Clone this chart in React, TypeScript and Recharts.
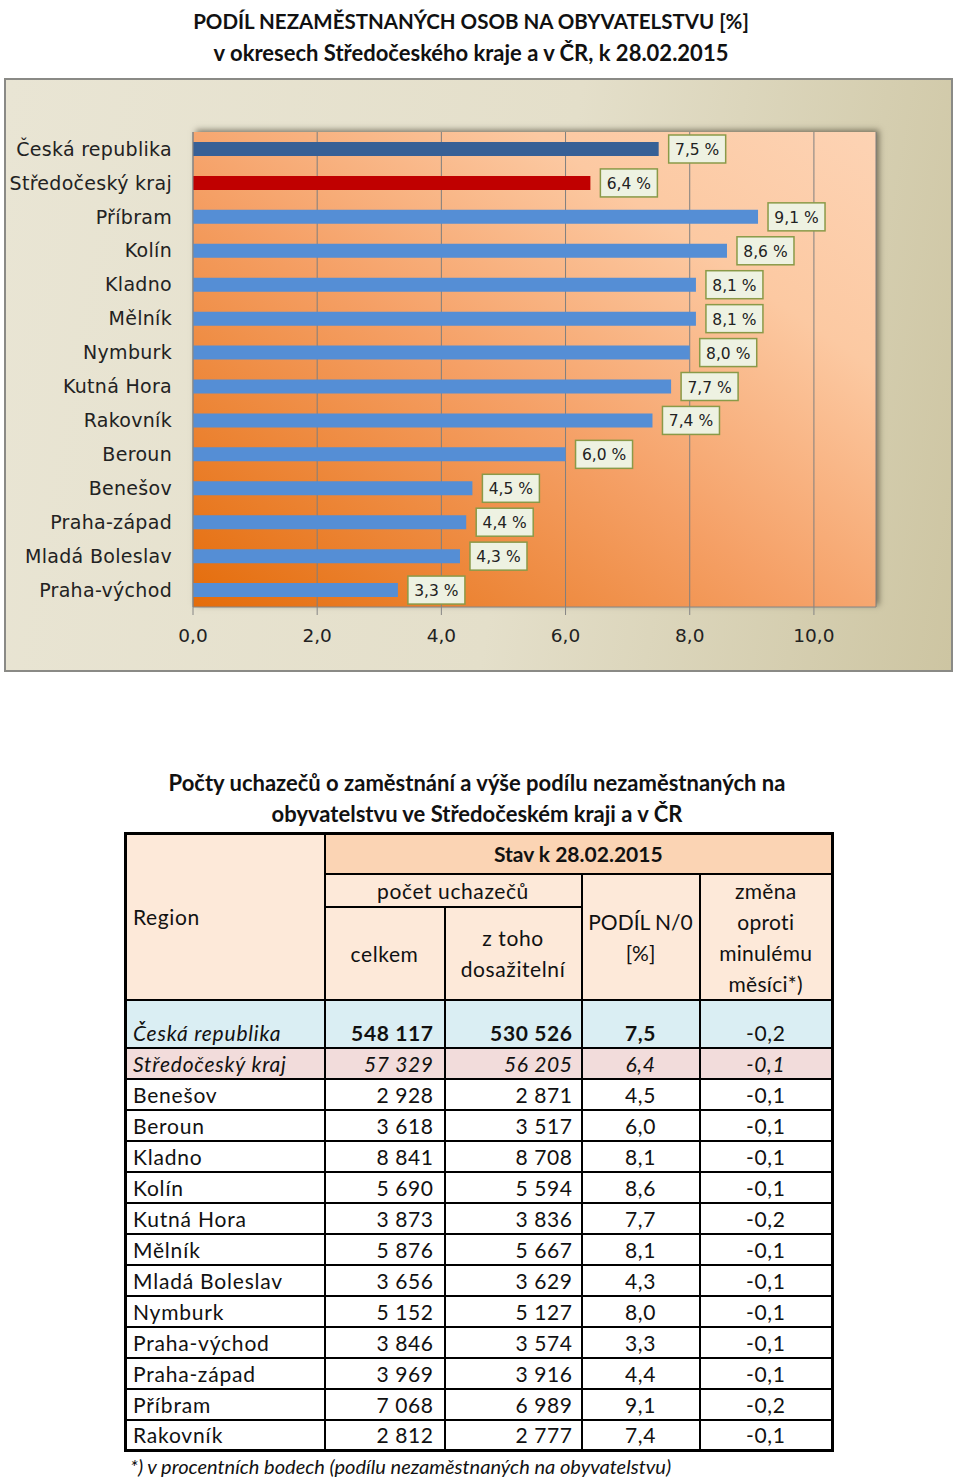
import React from 'react'
import { BarChart, Bar, XAxis, YAxis, CartesianGrid, Cell, LabelList } from "recharts";

// chart: share of unemployed persons in population, 28.02.2015
const categories = [
  "Česká republika", "Středočeský kraj", "Příbram", "Kolín", "Kladno", "Mělník", "Nymburk",
  "Kutná Hora", "Rakovník", "Beroun", "Benešov", "Praha-západ", "Mladá Boleslav", "Praha-východ",
];
const shares = [7.5, 6.4, 9.1, 8.6, 8.1, 8.1, 8.0, 7.7, 7.4, 6.0, 4.5, 4.4, 4.3, 3.3];
const xTicks = [0, 2, 4, 6, 8, 10];

// table
const tableRegions = [
  "Česká republika", "Středočeský kraj", "Benešov", "Beroun", "Kladno", "Kolín", "Kutná Hora",
  "Mělník", "Mladá Boleslav", "Nymburk", "Praha-východ", "Praha-západ", "Příbram", "Rakovník",
];
const applicantsTotal = [548117, 57329, 2928, 3618, 8841, 5690, 3873, 5876, 3656, 5152, 3846, 3969, 7068, 2812];
const applicantsAvailable = [530526, 56205, 2871, 3517, 8708, 5594, 3836, 5667, 3629, 5127, 3574, 3916, 6989, 2777];
const tableShares = [7.5, 6.4, 4.5, 6.0, 8.1, 8.6, 7.7, 8.1, 4.3, 8.0, 3.3, 4.4, 9.1, 7.4];
const monthChange = [-0.2, -0.1, -0.1, -0.1, -0.1, -0.1, -0.2, -0.1, -0.1, -0.1, -0.1, -0.1, -0.2, -0.1];

const chartData = categories.map((name, i) => ({ name, value: shares[i] }));

const BAR_COLORS = ["#376096", "#c00000"];
const OTHER_BAR = "#558ed5";

const dec = (v: number) => v.toFixed(1).replace(".", ",");
const thousands = (v: number) => String(v).replace(/\B(?=(\d{3})+(?!\d))/g, " ");

const AXIS_FONT = "'DejaVu Sans', Verdana, sans-serif";
const TEXT_FONT = "Lato, 'Open Sans', sans-serif";

const ValueTag = (props: any) => {
  const { x, y, width, height, value } = props;
  const bx = x + width + 10;
  const cy = y + height / 2;
  return (
    <g>
      <rect x={bx} y={cy - 14} width={57} height={28} fill="#eef2e2" stroke="#8a9a48" strokeWidth={1.5} />
      <text x={bx + 28.5} y={cy + 1} textAnchor="middle" dominantBaseline="central"
        fontFamily={AXIS_FONT} fontSize={15.5} fill="#222">
        {dec(value)} %
      </text>
    </g>
  );
};

const cell: React.CSSProperties = { border: "2px solid #000", padding: "0 6px" };

export default function App() {
  return (
    <div style={{ position: "absolute", left: 0, top: 0, width: 960, height: 1480, background: "#fff", fontFamily: TEXT_FONT, color: "#111" }}>
      {/* title */}
      <div style={{ position: "absolute", left: 0, top: 6, width: 942, textAlign: "center", fontWeight: 700, lineHeight: "31px" }}>
        <div style={{ fontSize: 20.5 }}>PODÍL NEZAMĚSTNANÝCH OSOB NA OBYVATELSTVU [%]</div>
        <div style={{ fontSize: 22 }}>v okresech Středočeského kraje a v ČR, k 28.02.2015</div>
      </div>

      {/* chart panel */}
      <div style={{
        position: "absolute", left: 4, top: 78, width: 945, height: 590,
        border: "2px solid #8a8a86",
        background: "linear-gradient(100deg, #e9e5d4 0%, #e4dfca 55%, #cdc5a2 100%)",
      }}>
        <div style={{
          position: "absolute", left: 187, top: 52, width: 683, height: 475,
          background: "linear-gradient(to top right, #e46c0a 0%, #f5a066 45%, #fcc9a2 75%, #fdd3b4 100%)",
          boxShadow: "3px -2px 6px rgba(40,35,20,0.55)",
        }} />
        <div style={{ position: "absolute", left: 0, top: 0 }}>
          <BarChart width={945} height={590} data={chartData} layout="vertical"
            margin={{ top: 52, right: 75, left: 0, bottom: 23 }} barSize={14}>
            <CartesianGrid horizontal={false} stroke="#7f7f7f" strokeWidth={1} />
            <XAxis type="number" domain={[0, 11]} ticks={xTicks} tickFormatter={dec}
              axisLine={{ stroke: "#868686" }} tickLine={{ stroke: "#868686" }} tickSize={8} tickMargin={14}
              height={40} tick={{ fontFamily: AXIS_FONT, fontSize: 18.5, fill: "#222" }} />
            <YAxis type="category" dataKey="name" width={187} axisLine={{ stroke: "#868686" }}
              tickLine={false} tickSize={0} tickMargin={21} interval={0}
              tick={{ fontFamily: AXIS_FONT, fontSize: 19, fill: "#222", letterSpacing: 0.3 }} />
            <Bar dataKey="value" isAnimationActive={false}>
              {chartData.map((d, i) => (
                <Cell key={d.name} fill={BAR_COLORS[i] ?? OTHER_BAR} />
              ))}
              <LabelList dataKey="value" content={ValueTag} />
            </Bar>
          </BarChart>
        </div>
      </div>

      {/* table title */}
      <div style={{ position: "absolute", left: 0, top: 767, width: 954, textAlign: "center", fontWeight: 700, fontSize: 22, lineHeight: "31px" }}>
        <div>Počty uchazečů o zaměstnání a výše podílu nezaměstnaných na</div>
        <div>obyvatelstvu ve Středočeském kraji a v ČR</div>
      </div>

      <table style={{
        position: "absolute", left: 124, top: 832, width: 707, borderCollapse: "collapse",
        border: "3px solid #000", fontSize: 21, letterSpacing: 0.6, tableLayout: "fixed",
      }}>
        <colgroup>
          <col style={{ width: 199 }} />
          <col style={{ width: 120 }} />
          <col style={{ width: 137 }} />
          <col style={{ width: 118 }} />
          <col style={{ width: 133 }} />
        </colgroup>
        <tbody>
          <tr style={{ height: 40 }}>
            <td rowSpan={3} style={{ ...cell, background: "#fde9d9", textAlign: "left" }}>Region</td>
            <td colSpan={4} style={{ ...cell, background: "#fbd4b4", textAlign: "center", fontWeight: 700, letterSpacing: 0 }}>Stav k 28.02.2015</td>
          </tr>
          <tr style={{ height: 32 }}>
            <td colSpan={2} style={{ ...cell, background: "#fde9d9", textAlign: "center" }}>počet uchazečů</td>
            <td rowSpan={2} style={{ ...cell, background: "#fde9d9", textAlign: "center", lineHeight: "31px", letterSpacing: 0, whiteSpace: "nowrap", padding: 0 }}>PODÍL N/0<br />[%]</td>
            <td rowSpan={2} style={{ ...cell, background: "#fde9d9", textAlign: "center", lineHeight: "31px", letterSpacing: 0.3 }}>změna<br />oproti<br />minulému<br />měsíci*)</td>
          </tr>
          <tr style={{ height: 87 }}>
            <td style={{ ...cell, background: "#fde9d9", textAlign: "center" }}>celkem</td>
            <td style={{ ...cell, background: "#fde9d9", textAlign: "center", lineHeight: "31px" }}>z toho<br />dosažitelní</td>
          </tr>
          {tableRegions.map((r, i) => {
            const bg = i === 0 ? "#daeef3" : i === 1 ? "#f2dcdb" : "#fff";
            const base: React.CSSProperties = {
              ...cell, background: bg, verticalAlign: i === 0 ? "bottom" : "middle",
              paddingBottom: i === 0 ? 2 : 0,
            };
            const italic = i <= 1 ? "italic" : "normal";
            const numWeight = i === 0 ? 700 : 400;
            const numStyle = i === 1 ? "italic" : "normal";
            return (
              <tr key={r} style={{ height: i === 0 ? 48 : 31 }}>
                <td style={{ ...base, fontStyle: italic, letterSpacing: 0.8 }}>{r}</td>
                <td style={{ ...base, textAlign: "right", paddingRight: 10, fontWeight: numWeight, fontStyle: numStyle }}>{thousands(applicantsTotal[i])}</td>
                <td style={{ ...base, textAlign: "right", paddingRight: 8, fontWeight: numWeight, fontStyle: numStyle }}>{thousands(applicantsAvailable[i])}</td>
                <td style={{ ...base, textAlign: "center", fontWeight: numWeight, fontStyle: numStyle }}>{dec(tableShares[i])}</td>
                <td style={{ ...base, textAlign: "center", fontStyle: numStyle }}>{dec(monthChange[i])}</td>
              </tr>
            );
          })}
        </tbody>
      </table>

      <div style={{ position: "absolute", left: 130, top: 1454, fontSize: 20, fontStyle: "italic" }}>
        *) v procentních bodech (podílu nezaměstnaných na obyvatelstvu)
      </div>
    </div>
  );
}
